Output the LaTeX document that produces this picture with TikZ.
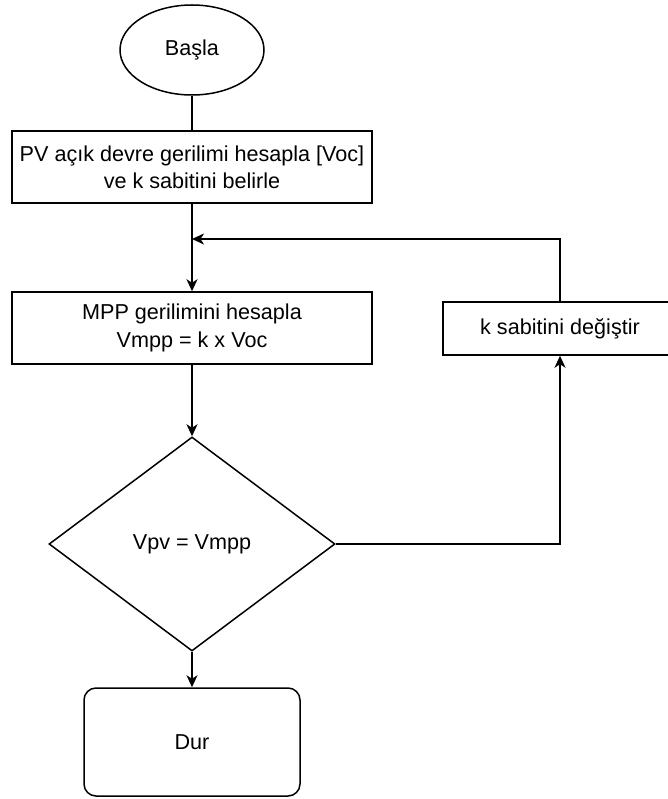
\documentclass[tikz,border=0pt]{standalone}
\usepackage{fontspec}
\setmainfont{Liberation Sans}
\usetikzlibrary{shapes.geometric,arrows.meta}
\begin{document}
\begin{tikzpicture}[x=1pt,y=-1pt,
  every node/.style={font=\fontsize{21.6}{27.3}\selectfont, inner sep=0pt, align=center},
  shp/.style={draw, line width=1.5pt},
  box/.style={shp, rectangle},
  conn/.style={line width=1.5pt},
  arr/.style={conn, -{Stealth[length=12pt,width=11pt,inset=3.5pt]}}]
\useasboundingbox (0,0) rectangle (668,799);
\node[shp, ellipse, minimum width=144pt, minimum height=90pt] (start) at (192,50) {Başla};
\node[box, minimum width=360pt, minimum height=72pt] (voc) at (192,167) {PV açık devre gerilimi hesapla [Voc]\\ve k sabitini belirle};
\node[box, minimum width=360pt, minimum height=72pt] (mpp) at (192,328) {MPP gerilimini hesapla\\Vmpp = k x Voc};
\node[box, minimum width=234pt, minimum height=53pt] (kchg) at (560,328.5) {k sabitini değiştir};
\node[shp, diamond, aspect=1.336, minimum width=286pt, minimum height=214pt] (dec) at (192,544) {Vpv = Vmpp};
\node[shp, rectangle, rounded corners=12pt, minimum width=216pt, minimum height=108pt] (stop) at (192,742) {Dur};
\coordinate (join) at (192,239);
\coordinate (rturn) at (560,544);
\coordinate (tturn) at (560,239);
\draw[conn] (start.south) -- (voc.north);
\draw[arr] (voc.south) -- (mpp.north);
\draw[arr] (kchg.north) -- (tturn) -- (join);
\draw[arr] (mpp.south) -- (dec.north);
\draw[arr] (dec.south) -- (stop.north);
\draw[arr] (dec.east) -- (rturn) -- (kchg.south);
\end{tikzpicture}
\end{document}
